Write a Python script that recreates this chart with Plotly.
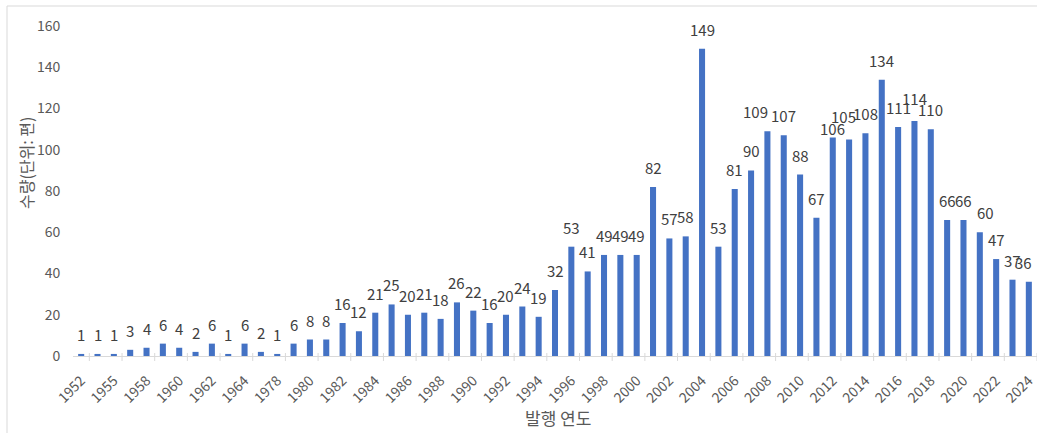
import plotly.graph_objects as go

years = ["1952", "1953", "1955", "1956", "1958", "1959", "1960", "1961", "1962", "1963",
         "1964", "1965", "1978", "1979", "1980", "1981", "1982", "1983", "1984", "1985",
         "1986", "1987", "1988", "1989", "1990", "1991", "1992", "1993", "1994", "1995",
         "1996", "1997", "1998", "1999", "2000", "2001", "2002", "2003", "2004", "2005",
         "2006", "2007", "2008", "2009", "2010", "2011", "2012", "2013", "2014", "2015",
         "2016", "2017", "2018", "2019", "2020", "2021", "2022", "2023", "2024"]
counts = [1, 1, 1, 3, 4, 6, 4, 2, 6, 1,
          6, 2, 1, 6, 8, 8, 16, 12, 21, 25,
          20, 21, 18, 26, 22, 16, 20, 24, 19, 32,
          53, 41, 49, 49, 49, 82, 57, 58, 149, 53,
          81, 90, 109, 107, 88, 67, 106, 105, 108, 134,
          111, 114, 110, 66, 66, 60, 47, 37, 36]
shown_labels = years[::2]
y_ticks = [0, 20, 40, 60, 80, 100, 120, 140, 160]

# data-label nudges (pixels) that mimic the automatic label placement of the original
label_nudge = {"2008": (-12, 0), "2012": (0, -11), "2013": (-6, 3),
               "2017": (0, 3), "2021": (6, 0), "2024": (-5, 0)}

FONT = "Noto Sans CJK KR"
W, H = 1037, 433
ML, MR, MT, MB = 73, 0, 26, 77
PH = H - MT - MB

fig = go.Figure()
fig.add_trace(go.Bar(
    x=years, y=counts, marker=dict(color="#4472C4", line=dict(width=0)),
    hoverinfo="x+y",
))

annotations = []
for i, (yr, v) in enumerate(zip(years, counts)):
    dx, dy = label_nudge.get(yr, (0, 0))
    annotations.append(dict(
        x=i, y=v, xref="x", yref="y", text=str(v), showarrow=False,
        yanchor="bottom", yshift=7 + dy, xshift=dx,
        font=dict(family=FONT, size=15, color="#404040"),
    ))

annotations.append(dict(
    xref="paper", yref="paper", x=-(ML - 26) / (W - ML - MR), y=1 - (163 - MT) / PH,
    text="수량(단위: 편)", textangle=-90, showarrow=False,
    xanchor="center", yanchor="middle",
    font=dict(family=FONT, size=16, color="#595959"),
))
annotations.append(dict(
    xref="paper", yref="paper", x=(558 - ML) / (W - ML - MR), y=-(417 - (H - MB)) / PH,
    text="발행 연도", showarrow=False, xanchor="center", yanchor="middle",
    font=dict(family=FONT, size=17, color="#595959"),
))

shapes = []
# tick marks between every second category
for i in range(0, len(years), 2):
    shapes.append(dict(type="line", xref="x", yref="paper",
                       x0=i + 0.5, x1=i + 0.5, y0=-5 / PH, y1=3 / PH,
                       line=dict(color="#d9d9d9", width=1)))
# chart border (top and left visible)
pw = W - ML - MR
shapes.append(dict(type="line", xref="paper", yref="paper",
                   x0=(7 - ML) / pw, x1=1.01, y0=1 + (MT - 6) / PH, y1=1 + (MT - 6) / PH,
                   line=dict(color="#d9d9d9", width=1)))
shapes.append(dict(type="line", xref="paper", yref="paper",
                   x0=(7 - ML) / pw, x1=(7 - ML) / pw, y0=1 + (MT - 6) / PH, y1=-MB / PH - 0.01,
                   line=dict(color="#d9d9d9", width=1)))

fig.update_layout(
    width=W, height=H,
    margin=dict(l=ML, r=MR, t=MT, b=MB, pad=0),
    paper_bgcolor="white", plot_bgcolor="white",
    bargap=0.63, showlegend=False,
    annotations=annotations, shapes=shapes,
    font=dict(family=FONT, color="#595959"),
    xaxis=dict(
        type="category", tickvals=shown_labels, ticktext=shown_labels,
        tickangle=-45, tickfont=dict(family=FONT, size=14, color="#595959"),
        showline=True, linecolor="#d9d9d9", linewidth=1,
        ticks="outside", ticklen=10, tickcolor="rgba(0,0,0,0)",
        showgrid=False, zeroline=False, range=[-0.5, len(years) - 0.5],
    ),
    yaxis=dict(
        range=[0, 160], tickvals=y_ticks, showgrid=False, zeroline=False,
        showline=False, tickfont=dict(family=FONT, size=14, color="#595959"),
        ticks="outside", ticklen=9, tickcolor="rgba(0,0,0,0)",
    ),
)

fig.write_html("out.html")
